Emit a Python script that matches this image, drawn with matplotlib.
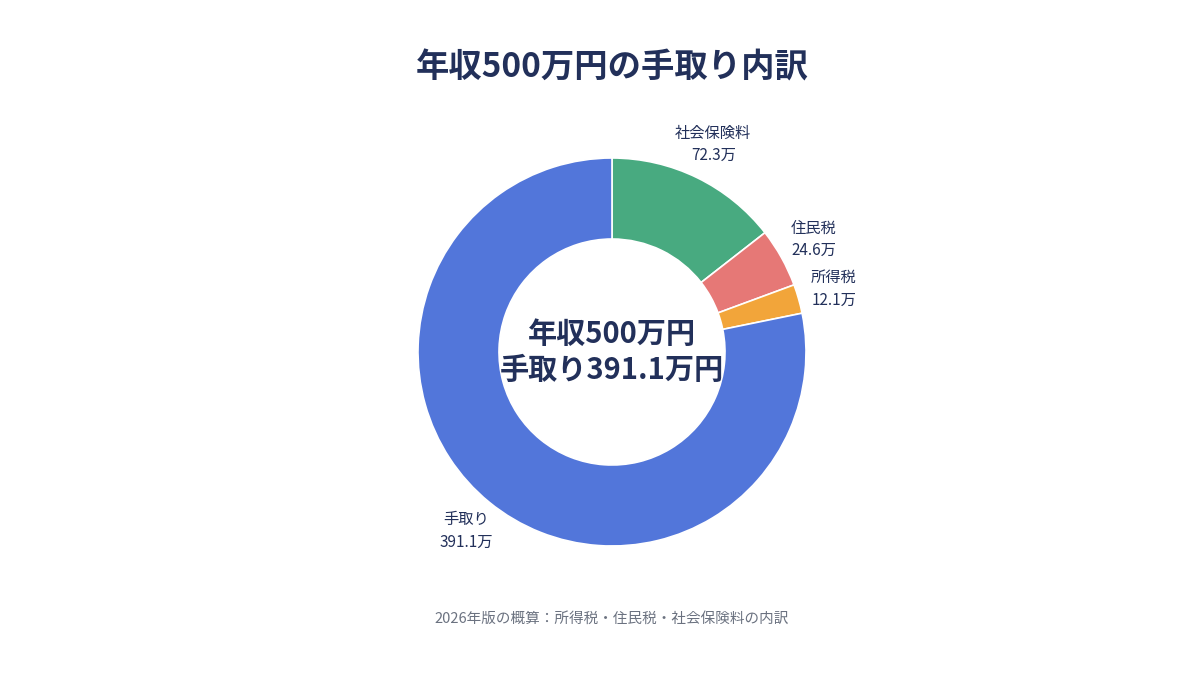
import matplotlib
matplotlib.use("Agg")
import matplotlib.pyplot as plt

plt.rcParams['font.family'] = ['Noto Sans CJK JP', 'DejaVu Sans']

categories = ["社会保険料", "住民税", "所得税", "手取り"]
values = [72.3, 24.6, 12.1, 391.1]
colors = ["#48AA80", "#E67876", "#F2A53A", "#5276DA"]
labels = [f"{c}\n{v}万" for c, v in zip(categories, values)]

fig = plt.figure(figsize=(12, 6.8), dpi=100)
R = 194
half = 1.25 * R
ax = fig.add_axes([(612 - half) / 1200, (680 - 352 - half) / 680, 2 * half / 1200, 2 * half / 680])
ax.set_xlim(-1.25, 1.25)
ax.set_ylim(-1.25, 1.25)
wedges, texts = ax.pie(values, labels=labels, colors=colors, startangle=90, counterclock=False,
                       radius=1.0, labeldistance=1.19,
                       wedgeprops=dict(width=113/194 * 0 + (194 - 113) / 194, edgecolor="white", linewidth=1.2),
                       textprops=dict(fontsize=11, color="#22305A", ha="center", va="center", linespacing=1.4))
for t in texts:
    t.set_ha("center")
ax.set_xlim(-1.25, 1.25)
ax.set_ylim(-1.25, 1.25)
ax.set_aspect("equal")
ax.axis("off")

ax.text(0, 0, "年収500万円\n手取り391.1万円", ha="center", va="center", fontsize=21,
        fontweight="bold", color="#22305A", linespacing=1.25)

fig.text(0.51, 1 - 68 / 680, "年収500万円の手取り内訳", ha="center", va="center",
         fontsize=24, fontweight="bold", color="#22305A")
fig.text(0.51, 1 - 619 / 680, "2026年版の概算：所得税・住民税・社会保険料の内訳", ha="center",
         va="center", fontsize=10.5, color="#6B7280")

fig.savefig("out.png", dpi=100, facecolor="white")
